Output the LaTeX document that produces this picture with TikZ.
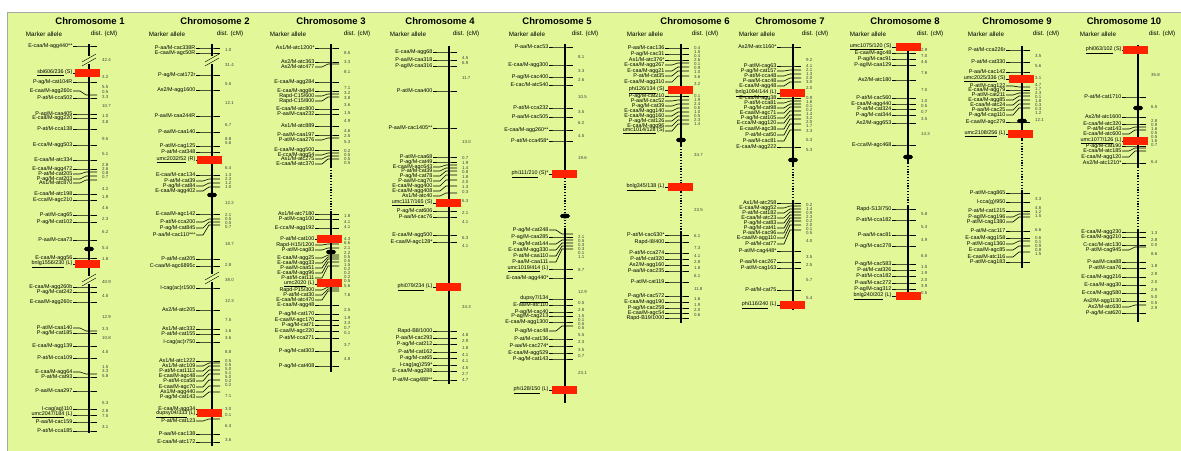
\documentclass[tikz,border=0pt]{standalone}
\usepackage{fontspec}
\setmainfont{Liberation Sans}
\usetikzlibrary{shapes.geometric}

\definecolor{panel}{RGB}{226,248,152}
\definecolor{qtl}{RGB}{255,34,0}

\newcommand{\ul}[1]{\underline{#1}}
% markers: label y / chromosome y / text
\newcommand{\markers}[2]{%
  \foreach \ya/\yb/\lab [count=\i] in {#2}{%
    \node[mlabel] (m#1-\i) at (\cx-16,\ya) {\lab};
    \draw[tick] (m#1-\i.east) -- (\cx-9,\ya) -- (\cx-3,\yb) -- (\cx+8,\yb);
  }}
\newcommand{\dists}[2]{%
  \foreach \ya/\dv [count=\i] in {#2}
    \node[dist] (d#1-\i) at (\cx+13,\ya) {\dv};}
\newcommand{\brk}[1]{%
  \fill[panel] (\cx-2,#1-4) rectangle (\cx+2,#1+4);
  \draw[thin] (\cx-7,#1+2) -- (\cx+7,#1-6);
  \draw[thin] (\cx-7,#1+6) -- (\cx+7,#1-2);}
\newcommand{\header}[4]{%
  \node[title] (t#1) at (#2,21) {Chromosome #1};
  \node[head] (ma#1) at (#3,34) {Marker allele};
  \node[head] (dc#1) at (#4,34) {dist. (cM)};}

\begin{document}
\begin{tikzpicture}[x=1pt,y=-1pt,
    mlabel/.style={anchor=east,inner sep=0.4pt,font=\fontsize{5.4}{5.6}\selectfont},
    dist/.style={anchor=west,inner sep=0pt,text=black!75,font=\fontsize{4.4}{4.6}\selectfont},
    tick/.style={line width=0.6pt},
    chrom/.style={line width=1.6pt},
    chromdot/.style={line width=1.6pt,dash pattern=on 1.2pt off 1.6pt},
    cent/.style={ellipse,fill=black,minimum width=10pt,minimum height=5pt,inner sep=0pt},
    redbox/.style={fill=qtl,minimum width=25pt,minimum height=7.5pt,inner sep=0pt},
    title/.style={font=\fontsize{9.5}{10}\selectfont\bfseries},
    head/.style={font=\fontsize{6.3}{7}\selectfont}]
  \useasboundingbox (0,0) rectangle (1181,450);
  \draw[black!35,fill=panel] (7,12) rectangle (1195,465);

  % chromosome 1
  \def\cx{89}
  \header{1}{90}{44}{104}
  \markers{1}{46/46/{E-caa/M-agg440**}, 73/73/{\ul{sbi606/236} (S)},
    82/82/{P-ag/M-cat104R}, 91/95/{E-caa/M-agg260c}, 98/98/{P-at/M-cca502},
    114/114/{P-ag/M-caa405}, 118/118/{E-caa/M-agg220}, 129/129/{P-at/M-cca138},
    145/145/{E-cca/M-agg503}, 160/160/{E-caa/M-atc334}, 169/169/{E-caa/M-agg472},
    174/172/{P-at/M-cat205}, 179/176/{P-ag/M-cat203}, 183/180/{As1/M-atc870},
    194/194/{E-caa/M-atc198}, 200/200/{E-cca/M-agc210}, 215/215/{P-at/M-cag65},
    222/222/{P-ag/M-cat102}, 240/240/{P-aa/M-caa73}, 258/258/{E-caa/M-agg56},
    264/264/{\ul{bnlg1556/230} (L)}, 287/287/{E-caa/M-agg260b}, 292/292/{P-ag/M-cat242},
    302/302/{E-caa/M-agg260c}, 328/331/{P-at/M-caa140}, 333/333/{P-ag/M-cat185},
    346/346/{E-caa/M-agg139}, 358/358/{P-at/M-cca109}, 372/374/{E-caa/M-agg64},
    377/377/{P-at/M-cat93}, 391/391/{P-aa/M-caa297}, 409/409/{I-cag(ag)110},
    415/415/{\ul{umc2047/184} (L)}, 422/422/{P-aa/M-cac159}, 431/431/{P-at/M-cca185}}
  \dists{1}{60/42.4, 77/3.2, 87/5.5, 92/0.5, 97/3.3, 106/10.7, 116/1.0, 122/3.8,
    139/9.5, 154/5.1, 165/2.8, 169/2.6, 173/0.8, 177/0.7, 189/4.2, 197/1.9, 208/4.6,
    219/2.3, 232/6.2, 248/5.4, 259/1.8, 282/40.9, 296/4.5, 317/12.9, 329/3.3,
    338/10.8, 352/4.5, 367/1.5, 371/3.3, 376/5.8, 403/5.3, 411/2.8, 416/7.5, 427/3.1}
  \draw[chrom] (\cx,44) -- (\cx,433);
  \brk{60} \brk{280}
  \node[cent] (c1) at (\cx,249) {};
  \node[redbox] (r1a) at (\cx-2,73) {};
  \node[redbox] (r1b) at (\cx-2,264) {};

  % chromosome 2
  \def\cx{212}
  \header{2}{215}{167}{230}
  \markers{2}{48/48/{P-aa/M-cac338R}, 53/53/{E-caa/M-agc50R}, 75/75/{P-ag/M-cat172r},
    90/90/{As2/M-agg1600}, 116/116/{P-aa/M-caa244R}, 132/132/{P-aa/M-caa140},
    146/146/{P-at/M-cag125}, 152/152/{P-at/M-cat348}, 160/160/{\ul{umc2032/52} (R)},
    175/175/{E-caa/M-cac134}, 181/179/{P-at/M-cat39}, 186/183/{P-ag/M-cat84},
    191/187/{E-caa/M-agg402}, 214/214/{E-caa/M-agc142}, 222/219/{P-at/M-cca200},
    228/222/{P-ag/M-cat845}, 235/225/{P-aa/M-cac110***}, 259/259/{P-at/M-cat205},
    266/266/{C-caa/M-agc6895c}, 288/288/{I-cag(ac)r1500}, 310/310/{As2/M-atc205},
    329/329/{As1/M-atc332}, 334/334/{P-at/M-cat155}, 342/342/{I-cag(ac)r750},
    361/361/{As1/M-atc1222}, 366/363/{As1/M-atc109}, 371/366/{P-at/M-cat1112},
    376/370/{E-caa/M-agc48}, 381/374/{P-at/M-cca58}, 387/380/{E-caa/M-agc70},
    392/386/{As1/M-agg440}, 397/392/{P-ag/M-cat143}, 409/409/{E-caa/M-agg34},
    414/414/{\ul{dupsy04/333} (L)}, 421/419/{P-at/M-cat123}, 434/434/{P-aa/M-cac138},
    442/442/{E-caa/M-atc172}}
  \dists{2}{50/1.0, 65/31.4, 84/5.5, 103/12.1, 125/6.7, 139/8.8, 143/5.6, 168/6.4,
    175/1.3, 179/2.3, 183/1.2, 187/1.0, 203/12.2, 215/2.1, 219/0.5, 223/0.5, 227/0.7,
    244/18.7, 265/2.8, 280/38.0, 301/12.3, 320/7.5, 331/1.6, 338/3.6, 352/8.8,
    361/0.5, 365/0.5, 369/5.0, 373/5.1, 377/5.0, 381/0.2, 385/0.2, 396/7.1, 409/3.0,
    415/0.1, 426/6.3, 440/3.6}
  \draw[chrom] (\cx,44) -- (\cx,446);
  \brk{60} \brk{278}
  \node[cent] (c2) at (\cx,195) {};
  \node[redbox] (r2a) at (\cx-3,160) {};
  \node[redbox] (r2b) at (\cx-3,413) {};

  % chromosome 3
  \def\cx{331}
  \header{3}{331}{288}{357}
  \markers{3}{48/48/{As1/M-atc1200*}, 62/62/{As2/M-atc363}, 67/64/{As2/M-atc477},
    82/82/{E-caa/M-agg284}, 91/91/{E-caa/M-agg84}, 96/94/{Rapd-C15/600},
    101/97/{Rapd-C15/800}, 109/109/{E-caa/M-atc800}, 114/114/{P-aa/M-caa232},
    126/126/{As1/M-atc889}, 135/135/{P-aa/M-caa197}, 140/138/{P-at/M-caa276},
    150/150/{E-caa/M-agg500}, 155/153/{E-cca/M-agg54}, 159/156/{As1/M-atc275},
    164/159/{E-caa/M-atc370}, 214/214/{As1/M-atc7180}, 219/219/{P-at/M-cag100},
    228/228/{E-cca/M-agg192}, 239/239/{P-at/M-cat100}, 245/244/{Rapd-H15/1200},
    250/248/{P-at/M-cag83}, 258/255/{E-caa/M-agg25}, 263/257/{E-caa/M-agg33},
    268/259/{P-aa/M-caa51}, 273/262/{E-caa/M-agg96}, 278/266/{P-at/M-cat111},
    284/284/{\ul{umc2020} (L)}, 290/287/{Rapd-P15/300}, 295/289/{P-at/M-cat30},
    300/291/{E-caa/M-atc470}, 305/305/{E-caa/M-agg48}, 314/314/{P-ag/M-cat170},
    320/320/{E-caa/M-agc170}, 325/325/{P-ag/M-cat71}, 331/331/{E-caa/M-agc220},
    338/338/{P-at/M-cca271}, 351/351/{P-ag/M-cat303}, 366/366/{P-ag/M-cat408}}
  \dists{3}{53/8.5, 62/3.3, 72/8.1, 88/7.1, 93/3.2, 98/3.8, 105/3.6, 113/1.5,
    121/4.9, 131/4.6, 136/2.5, 142/5.3, 151/0.2, 155/0.5, 159/0.5, 163/0.5, 216/1.8,
    222/4.1, 227/4.1, 239/4.3, 243/6.6, 248/2.1, 253/2.2, 257/0.5, 261/0.5, 265/1.5,
    269/0.2, 273/0.2, 277/0.2, 281/0.5, 286/5.6, 295/7.6, 310/2.5, 318/1.9, 323/3.3,
    328/0.7, 333/0.1, 345/3.7, 359/4.8}
  \draw[chrom] (\cx,44) -- (\cx,167);
  \draw[chromdot] (\cx,167) -- (\cx,211);
  \draw[chrom] (\cx,211) -- (\cx,372);
  \node[cent] (c3) at (\cx,252) {};
  \node[redbox] (r3a) at (\cx-2,239) {};
  \node[redbox] (r3b) at (\cx-2,283) {};

  % chromosome 4
  \def\cx{449}
  \header{4}{440}{408}{466}
  \markers{4}{52/52/{E-caa/M-agg68}, 60/60/{P-aa/M-caa318}, 66/66/{P-ag/M-caa316},
    91/91/{P-at/M-caa400}, 128/128/{P-aa/M-cac1405**}, 157/157/{P-at/M-caa68},
    162/162/{P-ag/M-cat49}, 167/165/{E-caa/M-agc643}, 171/168/{P-at/M-cat39},
    176/171/{P-ag/M-cat78}, 181/175/{P-aa/M-cag70}, 186/180/{E-caa/M-agg400},
    191/186/{E-caa/M-agg408}, 196/193/{As1/M-atc40}, 203/203/{\ul{umc1117/165} (S)},
    211/211/{P-ag/M-cat606}, 217/217/{P-aa/M-cac76}, 235/235/{E-caa/M-agg500},
    242/242/{E-caa/M-agc128*}, 287/287/{\ul{phi079/234} (L)}, 331/331/{Rapd-B8/1000},
    338/338/{P-aa/M-cac293}, 344/344/{P-ag/M-cat212}, 352/352/{P-at/M-cat162},
    358/358/{P-ag/M-cat65}, 365/365/{I-cag(ag)259*}, 371/371/{E-caa/M-agg288},
    380/380/{P-at/M-cag488**}}
  \dists{4}{58/4.5, 63/6.9, 78/11.7, 142/13.0, 158/0.7, 163/1.9, 168/1.4, 172/0.8,
    177/1.8, 182/2.0, 187/1.3, 192/0.3, 201/6.3, 213/2.1, 222/4.1, 238/6.3, 246/4.1,
    307/34.3, 335/4.8, 341/2.9, 348/1.8, 355/4.1, 361/4.1, 368/4.5, 374/2.7, 380/4.7}
  \draw[chrom] (\cx,46) -- (\cx,384);
  \node[redbox] (r4a) at (\cx-1,203) {};
  \node[redbox] (r4b) at (\cx-1,287) {};

  % chromosome 5
  \def\cx{565}
  \header{5}{557}{527}{585}
  \markers{5}{47/47/{P-aa/M-cac53}, 65/65/{E-caa/M-agg300}, 77/77/{P-ag/M-cac400},
    85/85/{E-cac/M-atc540}, 108/108/{P-at/M-cca232}, 117/117/{P-aa/M-cac505},
    130/130/{E-caa/M-agg260**}, 141/141/{P-at/M-cca458*}, 174/174/{\ul{phi111/210} (S)*},
    230/234/{P-ag/M-cat248}, 237/237/{P-ag/M-caa285}, 244/240/{P-ag/M-cat144},
    250/243/{E-caa/M-agg330}, 256/246/{P-at/M-caa110}, 262/249/{P-aa/M-caa111},
    269/269/{\ul{umc1019/414} (L)}, 278/278/{E-caa/M-agg440*}, 299/299/{\ul{dupsy7/134}},
    305/305/{E-aa/M-atc110}, 312/312/{P-ag/M-cac40}, 316/316/{P-ag/M-cag213},
    322/322/{E-caa/M-agg1300}, 331/326/{P-ag/M-cac48}, 339/339/{P-at/M-cat136},
    346/346/{P-aa/M-cac274*}, 353/353/{E-caa/M-agg529}, 359/359/{P-ag/M-cat143},
    390/390/{\ul{phi128/150} (L)}}
  \dists{5}{57/8.1, 71/3.3, 80/2.6, 97/10.5, 112/3.5, 123/6.2, 136/4.5, 158/19.6,
    237/2.1, 241/0.5, 245/0.3, 249/0.3, 253/0.1, 257/1.1, 270/8.7, 292/12.9, 303/0.5,
    310/2.8, 316/1.5, 320/0.1, 324/0.5, 328/0.5, 335/5.5, 342/2.3, 350/3.5, 356/0.7,
    373/23.1}
  \draw[chrom] (\cx,44) -- (\cx,178);
  \draw[chromdot] (\cx,178) -- (\cx,229);
  \draw[chrom] (\cx,229) -- (\cx,403);
  \node[cent] (c5) at (\cx,216) {};
  \node[redbox] (r5a) at (\cx-1,174) {};
  \node[redbox] (r5b) at (\cx-1,390) {};

  % chromosome 6
  \def\cx{681}
  \header{6}{695}{645}{705}
  \markers{6}{48/48/{P-aa/M-cac136}, 54/54/{P-ag/M-cac31}, 60/60/{As1/M-atc376*},
    65/63/{E-caa/M-agg267}, 71/67/{E-caa/M-agg21}, 76/71/{P-at/M-cat35},
    82/76/{E-caa/M-agg310}, 90/90/{\ul{phi126/134} (S)}, 96/96/{P-ag/M-cat210},
    101/100/{P-aa/M-cac52}, 106/104/{P-ag/M-cat39}, 111/108/{E-caa/M-agg140},
    116/112/{E-caa/M-agg160}, 121/116/{P-ag/M-cat126}, 126/120/{E-caa/M-agg96},
    131/124/{\ul{umc1014/128} (S)}, 187/187/{\ul{bnlg345/138} (L)}, 235/235/{P-at/M-cac630*},
    242/242/{Rapd-I8/400}, 253/253/{P-at/M-cca274}, 259/259/{P-at/M-cat320},
    265/265/{As2/M-agg160}, 271/271/{P-aa/M-cac235}, 282/282/{P-at/M-cat119},
    296/296/{P-ag/M-cac572}, 302/302/{E-caa/M-agg190}, 308/308/{P-ag/M-cac258},
    313/313/{E-caa/M-agc54}, 318/318/{Rapd-B19/1000}}
  \dists{6}{48/0.4, 52/1.5, 56/0.4, 60/2.6, 64/0.1, 68/0.9, 72/1.0, 77/3.6, 84/3.2,
    96/0.1, 100/1.9, 104/2.4, 108/0.6, 112/1.0, 116/0.5, 120/2.3, 124/1.4, 155/34.7,
    210/23.5, 236/6.1, 248/7.3, 256/4.1, 262/2.8, 268/1.8, 276/6.1, 289/11.8,
    299/1.6, 305/1.9, 310/2.0, 315/0.6}
  \draw[chrom] (\cx,44) -- (\cx,146);
  \draw[chromdot] (\cx,146) -- (\cx,183);
  \draw[chrom] (\cx,183) -- (\cx,192);
  \draw[chromdot] (\cx,192) -- (\cx,232);
  \draw[chrom] (\cx,232) -- (\cx,323);
  \node[cent] (c6) at (\cx,140) {};
  \node[redbox] (r6a) at (\cx-1,90) {};
  \node[redbox] (r6b) at (\cx-1,187) {};

  % chromosome 7
  \def\cx{793}
  \header{7}{790}{757}{815}
  \markers{7}{47/47/{As2/M-atc1160*}, 66/66/{P-at/M-cag63}, 71/70/{P-ag/M-cat157},
    76/74/{P-at/M-cca48}, 81/78/{P-aa/M-cac48}, 86/82/{E-caa/M-agg48},
    93/93/{\ul{bnlg1094/144} (L)}, 98/98/{E-caa/M-agg38}, 103/101/{P-at/M-cca81},
    108/104/{P-ag/M-cat98}, 113/107/{E-caa/M-agc71}, 118/111/{P-ag/M-cat105},
    123/115/{E-cca/M-agg120}, 129/119/{E-caa/M-agc38}, 135/124/{P-at/M-cat50},
    141/130/{P-aa/M-cac81}, 147/147/{E-caa/M-agg222}, 203/203/{As1/M-atc258},
    208/206/{E-caa/M-agg52}, 213/209/{P-at/M-cat182}, 218/212/{E-caa/M-atc23},
    223/215/{P-ag/M-cat83}, 228/218/{P-ag/M-cat41}, 233/221/{P-aa/M-cac96},
    238/225/{E-caa/M-agg110}, 244/230/{P-at/M-cat77}, 251/251/{P-at/M-cag448*},
    262/262/{P-aa/M-cac267}, 268/268/{P-at/M-cag163}, 290/290/{P-at/M-cat75},
    305/305/{\ul{phi116/240} (L)}}
  \dists{7}{60/9.2, 66/4.1, 70/2.1, 74/1.3, 78/2.0, 82/3.0, 88/2.0, 98/0.9, 102/1.6,
    106/0.1, 110/0.2, 114/1.4, 118/3.2, 122/2.0, 126/1.7, 131/3.3, 140/5.3, 150/5.3,
    205/0.2, 209/1.4, 213/0.9, 217/2.3, 221/0.2, 225/2.0, 229/0.1, 233/0.5, 241/4.0,
    257/3.5, 265/2.5, 280/5.7, 298/5.4}
  \draw[chrom] (\cx,44) -- (\cx,166);
  \draw[chromdot] (\cx,166) -- (\cx,200);
  \draw[chrom] (\cx,200) -- (\cx,310);
  \node[cent] (c7) at (\cx,160) {};
  \node[redbox] (r7a) at (\cx-1,93) {};
  \node[redbox] (r7b) at (\cx-1,305) {};

  % chromosome 8
  \def\cx{908}
  \header{8}{905}{868}{930}
  \markers{8}{47/47/{\ul{umc1075/120} (S)}, 53/53/{E-caa/M-agc48}, 59/59/{P-ag/M-cac91},
    65/65/{P-ag/M-caa129}, 80/80/{As2/M-atc180}, 98/98/{P-at/M-cac560},
    104/104/{E-caa/M-agg440}, 109/109/{P-at/M-cat324}, 115/115/{P-ag/M-cat344},
    123/123/{As2/M-agg653}, 145/145/{E-cca/M-agc468}, 209/209/{Rapd-S13/750},
    220/220/{P-at/M-cca182}, 235/235/{P-aa/M-cac81}, 246/246/{P-ag/M-cac278},
    264/264/{P-ag/M-cac583}, 270/270/{P-at/M-cat326}, 276/276/{P-at/M-cca182},
    283/283/{P-aa/M-cac272}, 289/289/{P-ag/M-cag312}, 296/296/{\ul{bnlg240/202} (L)}}
  \dists{8}{50/2.9, 56/7.0, 62/4.6, 73/7.6, 90/7.0, 101/1.0, 106/0.5, 112/0.7,
    119/3.5, 134/14.3, 214/5.8, 227/5.3, 240/4.9, 256/6.5, 267/1.5, 273/1.9, 280/2.0,
    286/3.9, 293/0.5}
  \draw[chrom] (\cx,43) -- (\cx,163);
  \draw[chromdot] (\cx,163) -- (\cx,205);
  \draw[chrom] (\cx,205) -- (\cx,300);
  \node[cent] (c8) at (\cx,157) {};
  \node[redbox] (r8a) at (\cx,47) {};
  \node[redbox] (r8b) at (\cx,296) {};

  % chromosome 9
  \def\cx{1022}
  \header{9}{1017}{986}{1046}
  \markers{9}{50/50/{P-at/M-cca226r}, 62/62/{P-at/M-cat330}, 72/72/{P-aa/M-cac142},
    79/79/{\ul{umc2025/336} (S)}, 86/87/{P-at/M-cag122}, 90/90/{E-caa/M-agg79},
    95/93/{P-at/M-cat211}, 100/96/{E-caa/M-agg85}, 105/100/{E-caa/M-atc24},
    110/104/{P-aa/M-cac25}, 115/108/{P-ag/M-cag110}, 122/122/{E-caa/M-agc279},
    134/134/{\ul{umc2108/256} (L)}, 193/193/{P-at/M-cag865}, 202/202/{I-cca(g)/950},
    211/211/{P-at/M-cat1215}, 217/214/{P-ag/M-cag196}, 222/217/{P-at/M-cag1380},
    231/231/{P-at/M-cac117}, 238/238/{E-caa/M-agg158}, 244/241/{P-at/M-cag1360},
    250/246/{E-caa/M-agc85}, 257/252/{E-caa/M-atc116}, 262/262/{P-at/M-cag183}}
  \dists{9}{56/3.5, 66/5.6, 78/3.1, 85/4.7, 89/1.7, 93/2.3, 97/0.1, 101/1.8, 105/0.3,
    109/0.3, 113/1.2, 120/12.1, 199/3.3, 208/4.6, 212/1.2, 216/1.5, 230/6.6, 238/0.6,
    242/0.1, 246/0.9, 250/0.8, 254/1.5}
  \draw[chrom] (\cx,46) -- (\cx,140);
  \draw[chromdot] (\cx,140) -- (\cx,190);
  \draw[chrom] (\cx,190) -- (\cx,268);
  \node[cent] (c9) at (\cx,121) {};
  \node[redbox] (r9a) at (\cx-1,79) {};
  \node[redbox] (r9b) at (\cx-2,134) {};

  % chromosome 10
  \def\cx{1138}
  \header{10}{1124}{1098}{1162}
  \markers{10}{50/50/{\ul{phi063/102} (S)}, 97/97/{P-at/M-cat1710}, 117/117/{As2/M-atc1600},
    124/124/{E-caa/M-atc320}, 129/127/{P-at/M-cat143}, 134/130/{E-caa/M-atc600},
    141/141/{\ul{umc1077/126} (L)}, 146/146/{P-ag/M-cat190}, 151/148/{E-caa/M-atc185},
    157/151/{E-caa/M-agg120}, 163/163/{As2/M-atc1210*}, 232/232/{E-caa/M-agg230},
    237/237/{E-caa/M-agg210}, 245/245/{C-cac/M-atc130}, 250/247/{P-at/M-cag945},
    262/262/{P-aa/M-caa88}, 268/268/{P-at/M-caa76}, 277/277/{E-caa/M-agg216},
    285/285/{E-caa/M-agg30}, 293/293/{E-cca/M-agg580}, 301/301/{As2/M-agg1130},
    307/305/{As2/M-atc630}, 313/313/{P-ag/M-cat620}}
  \dists{10}{75/35.8, 107/6.5, 121/2.8, 125/0.9, 129/1.6, 133/0.5, 137/0.5, 141/1.6,
    145/0.7, 162/6.4, 233/1.3, 240/2.8, 245/0.0, 254/8.6, 266/1.8, 274/2.9, 282/2.0,
    290/2.9, 297/5.0, 303/0.5, 308/2.9}
  \draw[chrom] (\cx,45) -- (\cx,167);
  \draw[chromdot] (\cx,167) -- (\cx,230);
  \draw[chrom] (\cx,230) -- (\cx,322);
  \node[cent] (c10) at (\cx,108) {};
  \node[redbox] (r10a) at (\cx-3,50) {};
  \node[redbox] (r10b) at (\cx-3,141) {};
\end{tikzpicture}
\end{document}
